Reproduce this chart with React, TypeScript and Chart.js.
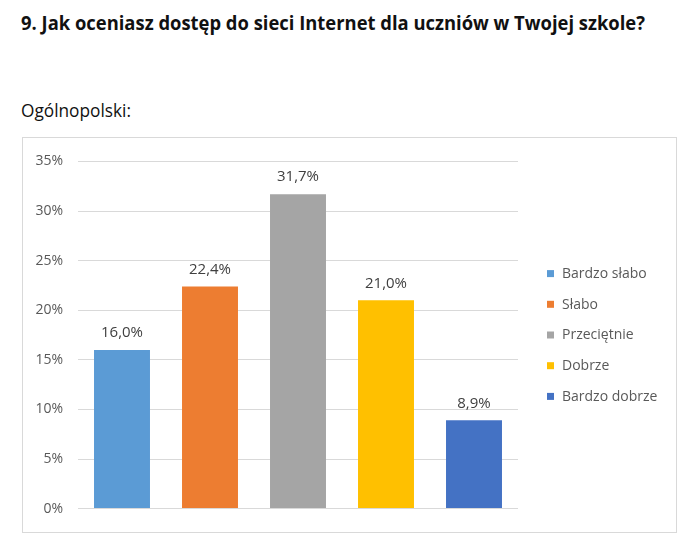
import React, { useEffect, useLayoutEffect, useRef } from "react";
import { Chart, registerables } from "chart.js";

Chart.register(...registerables);

const TITLE = "9. Jak oceniasz dostęp do sieci Internet dla uczniów w Twojej szkole?";
const SUBTITLE = "Ogólnopolski:";
const categories = ["Bardzo słabo", "Słabo", "Przeciętnie", "Dobrze", "Bardzo dobrze"];
const values = [16.0, 22.4, 31.7, 21.0, 8.9];
const barColors = ["#5B9BD5", "#ED7D31", "#A5A5A5", "#FFC000", "#4472C4"];
const yMin = 0;
const yMax = 35;
const yStep = 5;

const FONT = "'Open Sans', 'Noto Sans', sans-serif";

const fmt = (v: number) => v.toFixed(1).replace(".", ",") + "%";

const dataLabelPlugin = {
  id: "dataLabels",
  afterDatasetsDraw(chart: any) {
    const { ctx } = chart;
    const meta = chart.getDatasetMeta(0);
    ctx.save();
    ctx.font = `15px ${FONT}`;
    ctx.fillStyle = "#404040";
    ctx.textAlign = "center";
    ctx.textBaseline = "middle";
    meta.data.forEach((bar: any, i: number) => {
      ctx.fillText(fmt(values[i]), bar.x, bar.y - 17);
    });
    ctx.restore();
  },
};

const sideLegendPlugin = {
  id: "sideLegend",
  afterDraw(chart: any) {
    const { ctx, chartArea } = chart;
    const x0 = chartArea.right + 29;
    const cy = (chartArea.top + chartArea.bottom) / 2;
    const gap = 30.7;
    ctx.save();
    ctx.font = `14px ${FONT}`;
    ctx.textBaseline = "middle";
    ctx.textAlign = "left";
    categories.forEach((c, i) => {
      const y = cy + (i - (categories.length - 1) / 2) * gap;
      ctx.fillStyle = barColors[i];
      ctx.fillRect(x0, y - 3.5, 7, 7);
      ctx.fillStyle = "#595959";
      ctx.fillText(c, x0 + 15, y + 0.5);
    });
    ctx.restore();
  },
};

function FitText(props: { text: string; left: number; top: number; width: number; style: any }) {
  const ref = useRef<HTMLSpanElement>(null);
  useLayoutEffect(() => {
    const fit = () => {
      const el = ref.current;
      if (!el) return;
      el.style.transform = "none";
      const w = el.getBoundingClientRect().width;
      if (w > 0) el.style.transform = `scaleX(${props.width / w})`;
    };
    fit();
    if ((document as any).fonts && (document as any).fonts.ready) {
      (document as any).fonts.ready.then(fit);
    }
  }, [props.text, props.width]);
  return (
    <span
      ref={ref}
      style={{
        position: "absolute",
        left: props.left,
        top: props.top,
        whiteSpace: "nowrap",
        transformOrigin: "0 0",
        lineHeight: 1,
        ...props.style,
      }}
    >
      {props.text}
    </span>
  );
}

function BarChart() {
  const canvasRef = useRef<HTMLCanvasElement>(null);
  useEffect(() => {
    if (!canvasRef.current) return;
    const chart = new Chart(canvasRef.current, {
      type: "bar",
      data: {
        labels: categories,
        datasets: [
          {
            data: values,
            backgroundColor: barColors,
            borderWidth: 0,
            categoryPercentage: 1,
            barPercentage: 0.636,
          },
        ],
      },
      plugins: [dataLabelPlugin, sideLegendPlugin],
      options: {
        responsive: false,
        animation: false,
        maintainAspectRatio: false,
        layout: { padding: { top: 21, bottom: 19, left: 0, right: 158 } },
        plugins: {
          legend: { display: false },
          tooltip: { enabled: false },
          title: { display: false },
        },
        scales: {
          x: {
            grid: { display: false, drawTicks: false },
            border: { display: false },
            ticks: { display: false },
            afterFit: (scale: any) => {
              scale.height = 0;
            },
          },
          y: {
            min: yMin,
            max: yMax,
            grid: { color: "#D9D9D9", lineWidth: 1, drawTicks: false },
            border: { display: false },
            ticks: {
              stepSize: yStep,
              padding: 15,
              color: "#595959",
              font: { family: FONT, size: 14 },
              callback: (v: any) => `${v}%`,
            },
            afterFit: (scale: any) => {
              scale.width = 55;
            },
          },
        },
      },
    });
    return () => chart.destroy();
  }, []);
  return (
    <canvas
      ref={canvasRef}
      width={653}
      height={394}
      style={{ position: "absolute", left: 23, top: 138, width: 653, height: 394 }}
    />
  );
}

export default function App() {
  return (
    <div
      style={{
        position: "absolute",
        left: 0,
        top: 0,
        width: 691,
        height: 556,
        background: "#FFFFFF",
        overflow: "hidden",
        fontFamily: FONT,
      }}
    >
      <FitText
        text={TITLE}
        left={21}
        top={13.2}
        width={624}
        style={{ fontSize: 20, fontWeight: 700, color: "#111111" }}
      />
      <FitText
        text={SUBTITLE}
        left={21}
        top={100.7}
        width={110}
        style={{ fontSize: 18, fontWeight: 400, color: "#111111" }}
      />
      <div
        style={{
          position: "absolute",
          left: 22,
          top: 137,
          width: 655,
          height: 396,
          border: "1px solid #D9D9D9",
          boxSizing: "border-box",
        }}
      />
      <BarChart />
    </div>
  );
}
